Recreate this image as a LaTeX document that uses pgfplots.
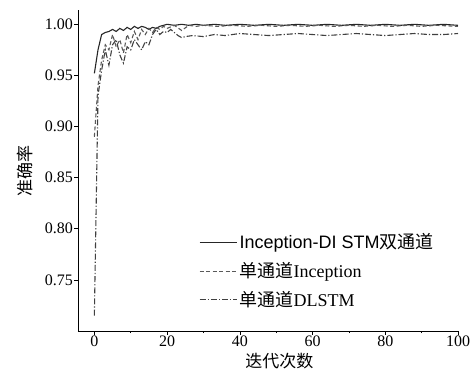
\documentclass[border=0pt]{standalone}
\usepackage{pgfplots}
\pgfplotsset{compat=1.18}
\usepackage{fontspec}
\setmainfont{Liberation Serif}
\newfontfamily\cjk{Noto Sans CJK SC}
\newfontfamily\lsans{Liberation Sans}
\begin{document}
\fontsize{16pt}{19pt}\selectfont
\begin{tikzpicture}
\path[use as bounding box] (-78pt,-42pt) rectangle (395pt,331pt);
\begin{axis}[
  at={(0,0)}, anchor=south west,
  scale only axis, width=380pt, height=321pt,
  xmin=-4.5, xmax=100, ymin=0.70, ymax=1.014,
  axis x line=bottom, axis y line=left,
  axis line style={-, black, line width=0.8pt},
  xtick={0,20,40,60,80,100},
  minor x tick num=1,
  ytick={0.75,0.80,0.85,0.90,0.95,1.00},
  yticklabel style={inner sep=1.5pt, /pgf/number format/.cd, fixed, fixed zerofill, precision=2},
  /pgf/number format/assume math mode=true,
  tick align=outside,
  major tick length=3.5pt, minor tick length=2pt,
  tick style={black, line width=0.6pt},
  ticklabel style={font=\rmfamily\fontsize{16pt}{19pt}\selectfont},
  xticklabel style={inner sep=1pt},
  xlabel={\cjk 迭代次数},
  ylabel={\cjk 准确率},
  every axis x label/.style={at={(axis description cs:0.53,-0.095)}, anchor=center, font=\fontsize{17pt}{20pt}\selectfont},
  every axis y label/.style={at={(axis description cs:-0.14,0.5)}, anchor=center, rotate=90, font=\fontsize{17pt}{20pt}\selectfont},
  legend style={draw=none, fill=none, at={(0.318,0.31)}, anchor=north west,
    font=\fontsize{18pt}{21pt}\selectfont, row sep=7pt, inner sep=0pt},
  legend cell align=left,
  legend image post style={xscale=2.2},
]
\addplot[black!85, line width=1.1pt] coordinates {
(0,0.952)(1,0.975)(2,0.990)(3,0.992)(4,0.993)(5,0.995)(6,0.993)(7,0.996)(8,0.994)(9,0.997)(10,0.995)(11,0.998)(12,0.996)(13,0.998)(14,0.997)(15,0.995)(16,0.997)(17,0.996)(18,0.998)(19,0.999)(20,1.000)(22,0.999)(24,1.000)(26,0.999)(28,1.000)(30,0.999)(33,1.000)(36,0.999)(40,1.000)(44,0.999)(48,1.000)(52,0.999)(56,1.000)(60,0.999)(64,1.000)(68,0.999)(72,1.000)(76,0.999)(80,1.000)(84,0.999)(88,1.000)(92,0.999)(96,1.000)(100,0.999)};
\addlegendentry{{\lsans Inception-DI STM}{\cjk 双通道}}
\addplot[black!65, line width=1.1pt, dash pattern=on 4pt off 2.5pt] coordinates {
(0,0.890)(1,0.940)(2,0.965)(3,0.980)(4,0.975)(5,0.990)(6,0.978)(7,0.985)(8,0.972)(9,0.990)(10,0.982)(11,0.993)(12,0.985)(13,0.995)(14,0.990)(15,0.996)(16,0.992)(17,0.997)(18,0.995)(19,0.998)(20,0.996)(22,0.999)(24,0.994)(26,0.999)(28,0.998)(30,0.999)(34,0.998)(38,0.999)(42,0.998)(46,0.999)(50,0.998)(54,0.999)(58,0.998)(62,0.999)(66,0.998)(70,0.999)(74,0.998)(78,0.999)(82,0.998)(86,0.999)(90,0.998)(94,0.999)(100,0.998)};
\addlegendentry{{\cjk 单通道}Inception}
\addplot[black!75, line width=1.1pt, dash pattern=on 6pt off 2pt on 1.2pt off 2pt] coordinates {
(0,0.715)(1,0.930)(2,0.955)(3,0.975)(4,0.960)(5,0.980)(6,0.985)(7,0.970)(8,0.962)(9,0.978)(10,0.975)(11,0.985)(12,0.980)(13,0.975)(14,0.983)(15,0.980)(16,0.990)(17,0.995)(18,0.990)(19,0.993)(20,0.992)(21,0.995)(22,0.992)(23,0.989)(24,0.987)(25,0.988)(27,0.989)(30,0.988)(33,0.990)(36,0.989)(40,0.991)(44,0.990)(48,0.989)(52,0.990)(56,0.991)(60,0.990)(64,0.989)(68,0.990)(72,0.991)(76,0.990)(80,0.989)(84,0.990)(88,0.991)(92,0.990)(96,0.990)(100,0.991)};
\addlegendentry{{\cjk 单通道}DLSTM}
\end{axis}
\end{tikzpicture}
\end{document}
